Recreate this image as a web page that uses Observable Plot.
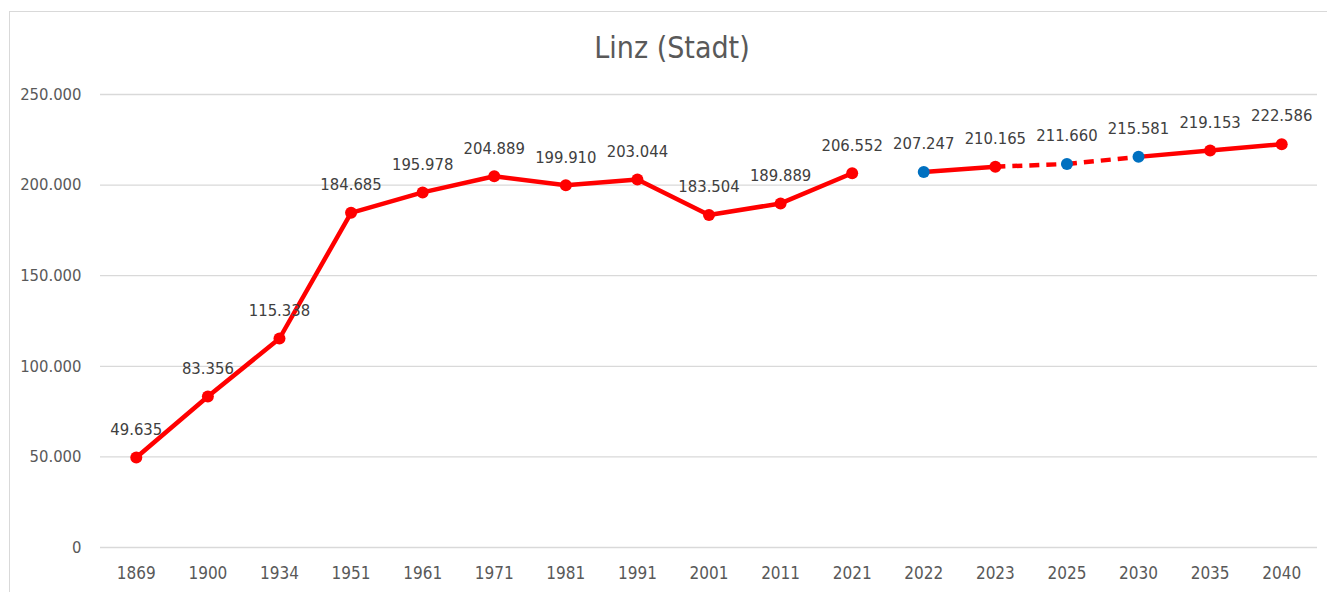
<!DOCTYPE html>
<html>
<head>
<meta charset="utf-8">
<script src="https://cdn.jsdelivr.net/npm/d3@7"></script>
<script src="https://cdn.jsdelivr.net/npm/@observablehq/plot@0.6"></script>
<style>
  html, body { margin: 0; padding: 0; background: #fff; }
  #wrap { position: relative; width: 1327px; height: 592px; overflow: hidden; font-family: "DejaVu Sans Condensed", "Liberation Sans Narrow", "Liberation Sans", sans-serif; }
  #frame { position: absolute; left: 9px; top: 11px; width: 1400px; height: 700px; border-left: 1px solid #d9d9d9; border-top: 1px solid #d9d9d9; }
  #title { position: absolute; left: 0; width: 1344px; top: 33px; line-height: 1; text-align: center; font-size: 30px; color: #595959; }
  #chart { position: absolute; left: 0; top: 0; }
</style>
</head>
<body>
<div id="wrap">
  <div id="frame"></div>
  <div id="chart"></div>
  <div id="title">Linz (Stadt)</div>
</div>
<script>
const years = ["1869","1900","1934","1951","1961","1971","1981","1991","2001","2011","2021","2022","2023","2025","2030","2035","2040"];
const population = [49635, 83356, 115338, 184685, 195978, 204889, 199910, 203044, 183504, 189889, 206552, 207247, 210165, 211660, 215581, 219153, 222586];
const yTicks = [0, 50000, 100000, 150000, 200000, 250000];
const blueYears = ["2022", "2025", "2030"];
const breakAfterYear = "2021";
const dashedFromYears = ["2023", "2025"];

const data = years.map((y, i) => ({year: y, value: population[i]}));
const segments = [];
for (let i = 0; i < data.length - 1; i++) {
  if (data[i].year === breakAfterYear) continue;
  segments.push({x1: data[i].year, y1: data[i].value, x2: data[i + 1].year, y2: data[i + 1].value, dashed: dashedFromYears.includes(data[i].year)});
}
const fmt = v => v === 0 ? "0" : d3.format(",")(v).replace(/,/g, ".");
const font = '"DejaVu Sans Condensed", "Liberation Sans Narrow", "Liberation Sans", sans-serif';

const chart = Plot.plot({
  width: 1327,
  height: 592,
  marginLeft: 100,
  marginRight: 10,
  marginTop: 94,
  marginBottom: 45,
  style: {fontFamily: font, background: "transparent", overflow: "visible"},
  x: {type: "point", domain: years, padding: 0.5, round: false, label: null},
  y: {domain: [0, 250000], label: null},
  marks: [
    Plot.gridY(yTicks, {stroke: "#d9d9d9", strokeOpacity: 1, strokeWidth: 1.3}),
    Plot.axisX({tickSize: 0, tickPadding: 19, fontSize: 17, fill: "#595959", label: null}),
    Plot.axisY({ticks: yTicks, tickSize: 0, tickPadding: 19, fontSize: 16.5, fill: "#595959", tickFormat: fmt, label: null}),
    Plot.link(segments.filter(s => !s.dashed), {x1: "x1", y1: "y1", x2: "x2", y2: "y2", stroke: "#FF0000", strokeWidth: 4.5, strokeLinecap: "round"}),
    Plot.link(segments.filter(s => s.dashed), {x1: "x1", y1: "y1", x2: "x2", y2: "y2", stroke: "#FF0000", strokeWidth: 4.5, strokeDasharray: "10,7"}),
    Plot.dot(data, {x: "year", y: "value", r: 6, fill: d => blueYears.includes(d.year) ? "#0070C0" : "#FF0000", stroke: "none"}),
    Plot.text(data, {x: "year", y: "value", text: d => fmt(d.value), dy: -28, fontSize: 16.5, fill: "#404040"})
  ]
});
document.getElementById("chart").appendChild(chart);
</script>
</body>
</html>
